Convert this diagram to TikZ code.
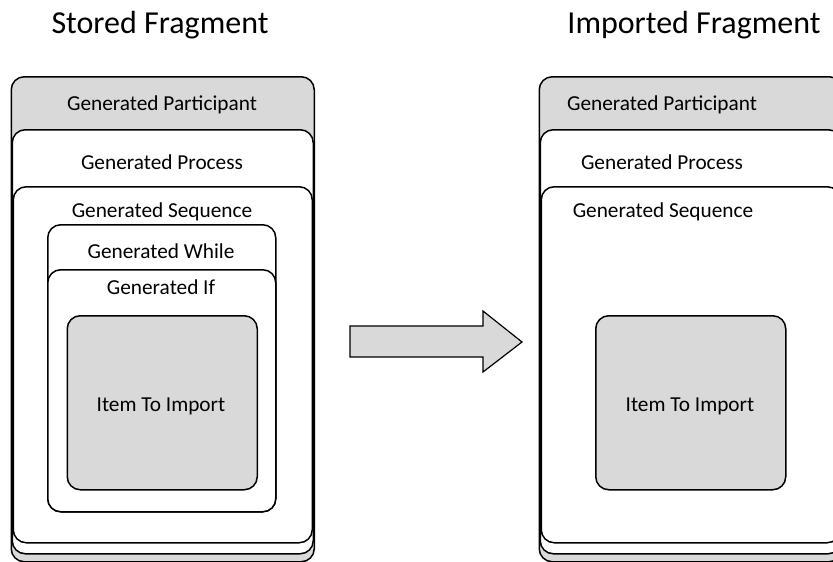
\documentclass[tikz,border=0pt]{standalone}
\usepackage{fontspec}
\setmainfont{Carlito}
\definecolor{boxgray}{HTML}{D9D9D9}
\begin{document}
\begin{tikzpicture}[x=1pt,y=-1pt,
  frame/.style={draw=black, line width=1.5pt, rounded corners=13pt,
                anchor=north west, inner sep=0pt},
  shaded/.style={frame, fill=boxgray},
  plain/.style={frame, fill=white},
  lbl/.style={font=\fontsize{21.3}{25}\selectfont, anchor=base, inner sep=0pt},
  heading/.style={font=\fontsize{32}{38}\selectfont, anchor=base, inner sep=0pt}]
\useasboundingbox (0,0) rectangle (833,562);
\clip (0,0) rectangle (833,562);

% headings
\node[heading] (tstored) at (160,33) {Stored Fragment};
\node[heading] (timported) at (694,33) {Imported Fragment};

% stored fragment: nested containers
\node[shaded, minimum width=303pt, minimum height=485pt] (sPart) at (10.5,76) {};
\node[plain,  minimum width=301pt, minimum height=424pt] (sProc) at (11.5,129) {};
\node[plain,  minimum width=299pt, minimum height=356pt] (sSeq)  at (12.5,186) {};
\node[plain,  minimum width=228pt, minimum height=287pt] (sWhile) at (47,224) {};
\node[plain,  minimum width=228pt, minimum height=242pt] (sIf) at (47,269) {};
\node[shaded, minimum width=190pt, minimum height=174pt] (sItem) at (66.5,315) {};

\node[lbl] (lsPart)  at (162,110) {Generated Participant};
\node[lbl] (lsProc)  at (162,169) {Generated Process};
\node[lbl] (lsSeq)   at (162,217) {Generated Sequence};
\node[lbl] (lsWhile) at (161,258) {Generated While};
\node[lbl] (lsIf)    at (161,294) {Generated If};
\node[lbl] (lsItem)  at (161,411) {Item To Import};

% transfer arrow
\draw[line width=1.2pt, fill=boxgray, line join=miter]
  (350,326) -- (483,326) -- (483,311) -- (522,342) -- (483,372)
  -- (483,357) -- (350,357) -- cycle;

% imported fragment: nested containers
\node[shaded, minimum width=303pt, minimum height=485pt] (iPart) at (538.5,76) {};
\node[plain,  minimum width=301pt, minimum height=424pt] (iProc) at (539.5,129) {};
\node[plain,  minimum width=299pt, minimum height=356pt] (iSeq)  at (540.5,186) {};
\node[shaded, minimum width=190pt, minimum height=174pt] (iItem) at (595,315) {};

\node[lbl] (liPart) at (662,110) {Generated Participant};
\node[lbl] (liProc) at (662,169) {Generated Process};
\node[lbl] (liSeq)  at (663,217) {Generated Sequence};
\node[lbl] (liItem) at (690,411) {Item To Import};
\end{tikzpicture}
\end{document}
